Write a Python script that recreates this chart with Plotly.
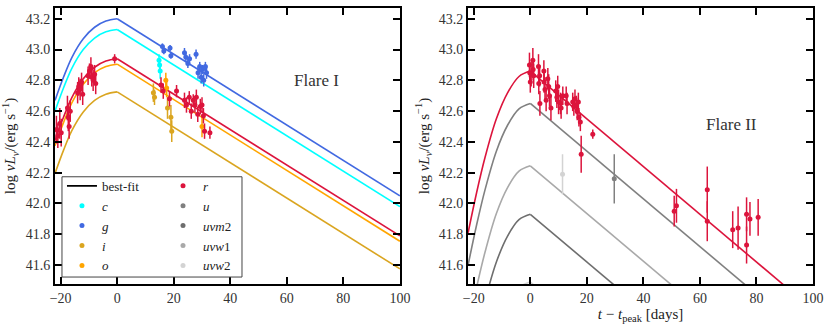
import plotly.graph_objects as go

# ---- model curve shapes, relative to each band's peak ----
rise_t = [-22, -19, -16, -12, -8, -4, 0]
decay_t = [0, 100]
left_rise_dy = [-0.53, -0.38, -0.25, -0.13, -0.055, -0.015, 0.0]
left_decay_dy = [0.0, -1.15]
right_rise_dy = [-1.05, -0.79, -0.56, -0.31, -0.14, -0.035, 0.0]
right_decay_dy = [0.0, -1.55]

# peak log luminosity of the best-fit curve in each band
left_peaks = {"g": 43.20, "c": 43.13, "r": 42.94, "o": 42.905, "i": 42.725}
right_peaks = {"r": 42.86, "u": 42.65, "uvw1": 42.245, "uvm2": 41.93, "uvw2": 41.49}

colors = {
    "c": "#00ffff", "g": "#4169e1", "i": "#daa520", "o": "#ffa500",
    "r": "#dc143c", "u": "#808080", "uvm2": "#6e6e6e", "uvw1": "#a9a9a9",
    "uvw2": "#d3d3d3",
}
labels = {
    "c": "<i>c</i>", "g": "<i>g</i>", "i": "<i>i</i>", "o": "<i>o</i>",
    "r": "<i>r</i>", "u": "<i>u</i>", "uvm2": "<i>uvm</i>2",
    "uvw1": "<i>uvw</i>1", "uvw2": "<i>uvw</i>2",
}

# ---- Flare I photometry ----
f1_r_t = [-21.5, -21.0, -20.3, -19.8, -17.6, -17.3, -17.0, -16.6, -14.0, -13.6,
          -13.1, -12.6, -12.2, -10.3, -9.8, -9.3, -9.0, -8.5, -8.0, -7.6, -0.9,
          15.5, 16.3, 18.5, 21.0, 23.8, 24.5, 25.5, 26.2, 26.9, 27.5, 28.0, 28.5,
          29.4, 30.0, 30.5, 30.9, 32.8]
f1_r_y = [42.48, 42.44, 42.52, 42.46, 42.62, 42.56, 42.50, 42.60, 42.72, 42.76,
          42.74, 42.79, 42.71, 42.83, 42.86, 42.89, 42.82, 42.80, 42.84, 42.78, 42.94,
          42.77, 42.73, 42.68, 42.73, 42.67, 42.64, 42.69, 42.60, 42.67, 42.64, 42.69,
          42.58, 42.63, 42.64, 42.57, 42.47, 42.46]
f1_r_e = [0.09, 0.08, 0.10, 0.09, 0.08, 0.09, 0.08, 0.07, 0.07, 0.06,
          0.07, 0.06, 0.07, 0.06, 0.05, 0.06, 0.06, 0.07, 0.06, 0.07, 0.03,
          0.05, 0.05, 0.05, 0.04, 0.05, 0.05, 0.04, 0.05, 0.04, 0.05, 0.05,
          0.05, 0.05, 0.05, 0.05, 0.05, 0.04]
f1_g_t = [16.0, 16.5, 18.7, 19.0, 23.8, 24.3, 25.0, 25.6, 27.9, 28.6, 29.2,
          29.7, 30.2, 30.6, 31.2, 31.6]
f1_g_y = [43.02, 42.99, 43.01, 42.96, 42.98, 42.95, 42.91, 42.94, 42.97, 42.85,
          42.89, 42.82, 42.87, 42.80, 42.89, 42.85]
f1_g_e = [0.02, 0.02, 0.02, 0.02, 0.03, 0.03, 0.03, 0.03, 0.03, 0.04, 0.03,
          0.04, 0.03, 0.04, 0.03, 0.04]
f1_c_t = [14.8, 15.0, 15.2]
f1_c_y = [42.93, 42.90, 42.86]
f1_c_e = [0.04, 0.04, 0.05]
f1_o_t = [17.2, 17.5, 30.0]
f1_o_y = [42.80, 42.75, 42.50]
f1_o_e = [0.05, 0.06, 0.07]
f1_i_t = [12.8, 13.2, 17.8, 19.0, 19.3]
f1_i_y = [42.72, 42.69, 42.62, 42.56, 42.47]
f1_i_e = [0.06, 0.05, 0.07, 0.08, 0.07]

# ---- Flare II photometry ----
f2_r_t = [-0.3, -0.2, 0.0, 0.3, 0.9, 1.0, 1.2, 2.9, 3.0, 3.3, 3.4, 4.8, 4.9, 5.2,
          5.6, 6.2, 6.5, 6.8, 7.3, 9.0, 9.4, 9.7, 10.0, 10.7, 10.9, 11.5, 12.7,
          13.0, 15.0, 15.4, 15.8, 16.3, 16.6, 17.0, 17.2, 17.7, 18.0, 22.1,
          50.9, 51.7, 62.6, 62.6, 71.6, 73.5, 76.5, 76.5, 77.7, 80.6]
f2_r_y = [42.90, 42.85, 42.79, 42.84, 42.93, 42.87, 42.83, 42.89, 42.78, 42.83,
          42.65, 42.86, 42.79, 42.74, 42.67, 42.81, 42.76, 42.70, 42.62, 42.73,
          42.69, 42.76, 42.66, 42.65, 42.62, 42.70, 42.70, 42.65, 42.66, 42.63,
          42.68, 42.64, 42.60, 42.66, 42.56, 42.53, 42.32, 42.45,
          41.95, 41.985, 42.09, 41.885, 41.83, 41.84, 41.93, 41.73, 41.90, 41.91]
f2_r_e = [0.08, 0.07, 0.07, 0.08, 0.08, 0.07, 0.08, 0.08, 0.07, 0.07,
          0.08, 0.07, 0.07, 0.08, 0.07, 0.07, 0.08, 0.07, 0.08, 0.07,
          0.07, 0.07, 0.08, 0.07, 0.07, 0.06, 0.06, 0.07, 0.06, 0.06,
          0.06, 0.06, 0.06, 0.06, 0.06, 0.06, 0.12, 0.03,
          0.10, 0.11, 0.15, 0.13, 0.12, 0.14, 0.11, 0.12, 0.11, 0.12]
f2_u_t = [29.7]
f2_u_y = [42.16]
f2_u_e = [0.16]
f2_uvw2_t = [11.4]
f2_uvw2_y = [42.19]
f2_uvw2_e = [0.13]

SERIF = "Liberation Serif"
fig = go.Figure()


def add_model(band, peak, rise_dy, decay_dy, xa, ya):
    fig.add_trace(go.Scatter(
        x=rise_t, y=[peak + d for d in rise_dy], mode="lines",
        line=dict(color=colors[band], width=1.6, shape="spline"),
        xaxis=xa, yaxis=ya, showlegend=False, hoverinfo="skip"))
    fig.add_trace(go.Scatter(
        x=decay_t, y=[peak + d for d in decay_dy], mode="lines",
        line=dict(color=colors[band], width=1.6),
        xaxis=xa, yaxis=ya, showlegend=False, hoverinfo="skip"))


def add_points(band, t, y, e, xa, ya, legend=None):
    fig.add_trace(go.Scatter(
        x=t, y=y, mode="markers", name=labels[band],
        marker=dict(color=colors[band], size=5),
        error_y=dict(type="data", array=e, color=colors[band],
                     thickness=1.5, width=0),
        xaxis=xa, yaxis=ya,
        showlegend=legend is not None, legend=legend or "legend"))


for b, p in left_peaks.items():
    add_model(b, p, left_rise_dy, left_decay_dy, "x", "y")
for b, p in right_peaks.items():
    add_model(b, p, right_rise_dy, right_decay_dy, "x2", "y2")

# legend column 1: best-fit, c, g, i, o
fig.add_trace(go.Scatter(x=[None], y=[None], mode="lines", name="best-fit",
                         line=dict(color="black", width=1.8), legend="legend"))
add_points("c", f1_c_t, f1_c_y, f1_c_e, "x", "y", "legend")
add_points("g", f1_g_t, f1_g_y, f1_g_e, "x", "y", "legend")
add_points("i", f1_i_t, f1_i_y, f1_i_e, "x", "y", "legend")
add_points("o", f1_o_t, f1_o_y, f1_o_e, "x", "y", "legend")
# legend column 2: r, u, uvm2, uvw1, uvw2
add_points("r", f1_r_t, f1_r_y, f1_r_e, "x", "y", "legend2")
add_points("r", f2_r_t, f2_r_y, f2_r_e, "x2", "y2")
add_points("u", f2_u_t, f2_u_y, f2_u_e, "x2", "y2", "legend2")
fig.add_trace(go.Scatter(x=[None], y=[None], mode="markers", name=labels["uvm2"],
                         marker=dict(color=colors["uvm2"], size=5), legend="legend2"))
fig.add_trace(go.Scatter(x=[None], y=[None], mode="markers", name=labels["uvw1"],
                         marker=dict(color=colors["uvw1"], size=5), legend="legend2"))
add_points("uvw2", f2_uvw2_t, f2_uvw2_y, f2_uvw2_e, "x2", "y2", "legend2")

ytitle = "log <i>νL</i><sub><i>ν</i></sub>/(erg s<sup>−1</sup>)"
axis_common = dict(
    showline=True, linecolor="black", linewidth=2, mirror="ticks",
    ticks="inside", ticklen=7, tickwidth=2, tickcolor="black",
    showgrid=False, zeroline=False,
    tickfont=dict(family=SERIF, size=14, color="#333"),
)
fig.update_layout(
    width=830, height=328,
    margin=dict(l=55, r=17, t=6, b=44),
    paper_bgcolor="white", plot_bgcolor="white",
    font=dict(family=SERIF, color="#222"),
    xaxis=dict(domain=[0, 0.455], range=[-22, 100], dtick=20, tick0=0,
               anchor="y", **axis_common),
    xaxis2=dict(domain=[0.545, 1], range=[-22, 100], dtick=20, tick0=0, anchor="y2",
                title=dict(text="<i>t</i> − <i>t</i><sub>peak</sub> [days]",
                           font=dict(size=15), standoff=4),
                **axis_common),
    yaxis=dict(range=[41.477, 43.27], dtick=0.2, tick0=41.6, tickformat=".1f",
               anchor="x",
               title=dict(text=ytitle, font=dict(size=15), standoff=6), **axis_common),
    yaxis2=dict(range=[41.477, 43.27], dtick=0.2, tick0=41.6, tickformat=".1f",
                anchor="x2",
                title=dict(text=ytitle, font=dict(size=15), standoff=6), **axis_common),
    legend=dict(x=0.0092, y=0.41, xanchor="left", yanchor="top",
                bgcolor="rgba(0,0,0,0)", font=dict(family=SERIF, size=13)),
    legend2=dict(x=0.1425, y=0.41, xanchor="left", yanchor="top",
                 bgcolor="rgba(0,0,0,0)", font=dict(family=SERIF, size=13)),
    shapes=[dict(type="rect", xref="paper", yref="paper",
                 x0=0.0092, x1=0.2467, y0=0.0252, y1=0.3885,
                 line=dict(color="#444", width=1), fillcolor="white", layer="above")],
    annotations=[
        dict(x=70.5, y=42.80, xref="x", yref="y", text="Flare I", showarrow=False,
             font=dict(family=SERIF, size=17, color="#333")),
        dict(x=71.2, y=42.51, xref="x2", yref="y2", text="Flare II", showarrow=False,
             font=dict(family=SERIF, size=17, color="#333")),
    ],
)

fig.write_html("out.html", config={"displayModeBar": False},
               post_script="document.body.style.margin='0px';")
